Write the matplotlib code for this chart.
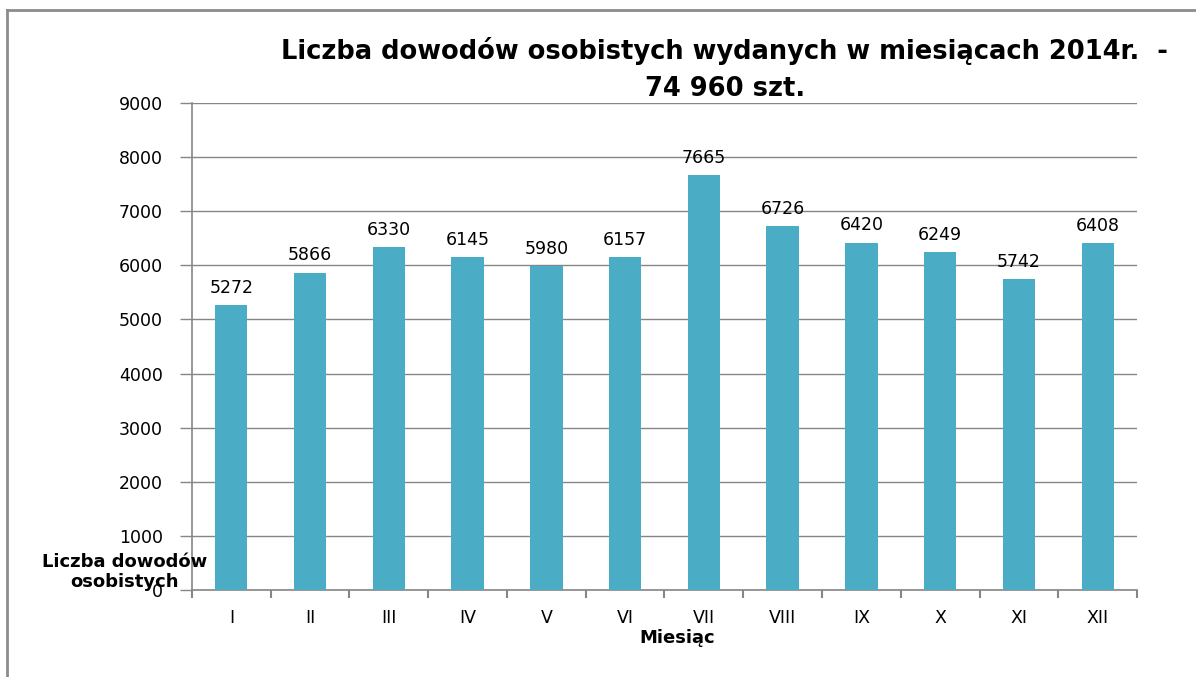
import numpy as np
import matplotlib.pyplot as plt
from matplotlib.lines import Line2D

# Dane: liczba dowodów osobistych wydanych w poszczególnych miesiącach 2014 r.
months = ["I", "II", "III", "IV", "V", "VI", "VII", "VIII", "IX", "X", "XI", "XII"]
counts = [5272, 5866, 6330, 6145, 5980, 6157, 7665, 6726, 6420, 6249, 5742, 6408]
yticks = [0, 1000, 2000, 3000, 4000, 5000, 6000, 7000, 8000, 9000]

bar_color = "#4BACC6"
grey = "#868686"

fig = plt.figure(figsize=(11.96, 6.77), dpi=100)
ax = fig.add_axes([0.1605, 0.1285, 0.7902, 0.7194])

x = np.arange(len(months))
ax.bar(x, counts, width=0.41, color=bar_color, zorder=3)

# etykiety danych
for xi, v in zip(x, counts):
    ax.text(xi, v + 150, str(v), ha="center", va="bottom",
            fontsize=12.5, family="DejaVu Sans", color="black")

ax.set_xlim(-0.5, len(months) - 0.5)
ax.set_ylim(0, 9000)
ax.set_yticks(yticks)
ax.set_yticklabels([str(t) for t in yticks], fontsize=12.5, family="DejaVu Sans")
ax.yaxis.grid(True, color=grey, linewidth=1, zorder=0)

ax.set_xticks(x)
ax.set_xticklabels(months, fontsize=12.5, family="DejaVu Sans")
ax.set_xticks(np.arange(-0.5, len(months)), minor=True)
ax.tick_params(axis="x", which="major", length=0, pad=14)
ax.tick_params(axis="x", which="minor", length=6, color=grey, width=1.5)
ax.tick_params(axis="y", length=9, color=grey, width=1, pad=12)

for s in ["top", "right"]:
    ax.spines[s].set_visible(False)
for s in ["left", "bottom"]:
    ax.spines[s].set_color(grey)
    ax.spines[s].set_linewidth(1.2)

# tytuł
fig.text(0.606, 0.925, "Liczba dowodów osobistych wydanych w miesiącach 2014r.  -",
         ha="center", va="center", fontsize=18.5, fontweight="bold", family="DejaVu Sans")
fig.text(0.606, 0.868, "74 960 szt.",
         ha="center", va="center", fontsize=18.5, fontweight="bold", family="DejaVu Sans")

# opisy osi
fig.text(0.5665, 0.058, "Miesiąc", ha="center", va="center",
         fontsize=13, fontweight="bold", family="DejaVu Sans")
fig.text(0.104, 0.155, "Liczba dowodów\nosobistych", ha="center", va="center",
         fontsize=13, fontweight="bold", family="DejaVu Sans", linespacing=1.1)

# ramka wykresu
fig.add_artist(Line2D([7 / 1196, 1], [1 - 10 / 677, 1 - 10 / 677],
                      color="#8c8c8c", linewidth=2, transform=fig.transFigure))
fig.add_artist(Line2D([7 / 1196, 7 / 1196], [0, 1 - 10 / 677],
                      color="#8c8c8c", linewidth=2, transform=fig.transFigure))

plt.savefig("out.png", dpi=100)
